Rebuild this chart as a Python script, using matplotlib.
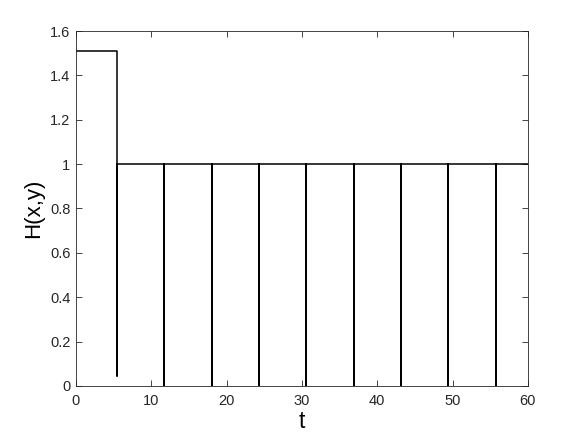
import matplotlib.pyplot as plt

# switching times
t_first = 5.44
h_start = 1.51
h_first_dip = 0.046
h_level = 1.0
t_dips = [11.72, 18.0, 24.29, 30.57, 36.85, 43.13, 49.42, 55.7]
h_dip = 0.0
t_end = 60.0

x_ticks = [0, 10, 20, 30, 40, 50, 60]
y_ticks = [0, 0.2, 0.4, 0.6, 0.8, 1, 1.2, 1.4, 1.6]
y_tick_labels = ["0", "0.2", "0.4", "0.6", "0.8", "1", "1.2", "1.4", "1.6"]

t = [0, t_first, t_first, t_first]
h = [h_start, h_start, h_first_dip, h_level]
for td in t_dips:
    t += [td, td, td]
    h += [h_level, h_dip, h_level]
t.append(t_end)
h.append(h_level)

plt.rcParams["font.family"] = ["Liberation Sans", "DejaVu Sans"]
AX_COLOR = "#262626"

fig = plt.figure(figsize=(5.84, 4.38), dpi=100)
ax = fig.add_axes([0.13, 0.119, 0.774, 0.81])
ax.plot(t, h, color="black", lw=1.1)

ax.set_xlim(0, 60)
ax.set_ylim(0, 1.6)
ax.set_xticks(x_ticks)
ax.set_yticks(y_ticks)
ax.set_yticklabels(y_tick_labels)
ax.tick_params(direction="in", top=True, right=True, length=4, width=0.6,
               colors=AX_COLOR, labelsize=10.5)
ax.tick_params(axis="y", pad=4)
ax.tick_params(axis="x", pad=6)
for s in ax.spines.values():
    s.set_color(AX_COLOR)
    s.set_linewidth(0.6)

ax.set_xlabel("t", fontsize=16.5, color="black", labelpad=1)
ax.set_ylabel("H(x,y)", fontsize=16, color="black", labelpad=4)

fig.savefig("out.png", dpi=100)
